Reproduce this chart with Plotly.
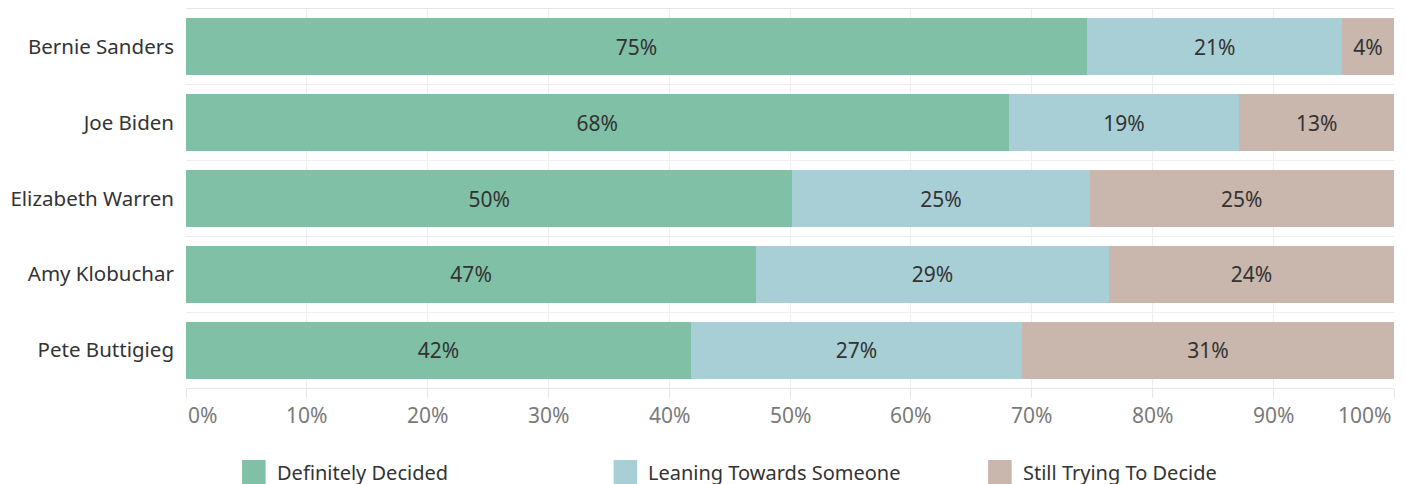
import plotly.graph_objects as go

candidates = ["Bernie Sanders", "Joe Biden", "Elizabeth Warren", "Amy Klobuchar", "Pete Buttigieg"]
definitely = [74.6, 68.1, 50.2, 47.2, 41.8]
leaning = [21.1, 19.1, 24.6, 29.2, 27.4]
still_trying = [4.3, 12.8, 25.2, 23.6, 30.8]
tick_values = [0, 10, 20, 30, 40, 50, 60, 70, 80, 90, 100]
tick_labels = [f"{v}%" for v in tick_values]

series = [
    ("Definitely Decided", definitely, "#7FC0A6"),
    ("Leaning Towards Someone", leaning, "#A8CFD5"),
    ("Still Trying To Decide", still_trying, "#C9B6AC"),
]

FONT = "Noto Sans"
rows = list(range(len(candidates)))

fig = go.Figure()
for name, vals, color in series:
    fig.add_trace(go.Bar(
        y=rows,
        x=vals,
        orientation="h",
        name=name,
        marker=dict(color=color, line=dict(width=0)),
        texttemplate="%{x:.0f}%",
        textposition="inside",
        insidetextanchor="middle",
        textangle=0,
        textfont=dict(family=FONT, size=21, color="#333333"),
        showlegend=False,
        hoverinfo="skip",
    ))

# x tick labels (first left-aligned, last right-aligned like the original)
annotations = []
for i, (v, lab) in enumerate(zip(tick_values, tick_labels)):
    anchor = "center"
    if i == 0:
        anchor = "left"
    elif i == len(tick_values) - 1:
        anchor = "right"
    annotations.append(dict(
        x=v, xref="x", y=-0.071, yref="paper", text=lab, showarrow=False,
        xanchor=anchor, yanchor="middle",
        font=dict(family=FONT, size=21, color="#7a7a7a"),
    ))

# legend drawn by hand so the swatches can be big
shapes = []
legend_x = [0.0464, 0.354, 0.664]
for (name, vals, color), lx in zip(series, legend_x):
    shapes.append(dict(
        type="rect", xref="paper", yref="paper",
        x0=lx, x1=lx + 0.0195, y0=-0.19, y1=-0.26,
        fillcolor=color, line=dict(width=0),
    ))
    annotations.append(dict(
        x=lx + 0.027, xref="paper", y=-0.224, yref="paper", text=name,
        showarrow=False, xanchor="left", yanchor="middle",
        font=dict(family=FONT, size=20, color="#333333"),
    ))

# the page body adds an 8px offset, so the figure is a bit smaller and shifted
fig.update_layout(
    barmode="stack",
    bargap=0.25,
    width=1398,
    height=476,
    margin=dict(l=178, r=12, t=1, b=96),
    plot_bgcolor="white",
    paper_bgcolor="white",
    annotations=annotations,
    shapes=shapes,
    xaxis=dict(
        range=[0, 100],
        tickvals=tick_values,
        showticklabels=False,
        ticks="outside",
        ticklen=9,
        tickcolor="#e6e6e6",
        showgrid=True,
        gridcolor="#eeeeee",
        zeroline=False,
        showline=True,
        linecolor="#e6e6e6",
        mirror=True,
        automargin=False,
    ),
    yaxis=dict(
        range=[len(candidates) - 0.5, -0.5],
        tickvals=rows,
        ticktext=candidates,
        ticks="",
        ticklabelstandoff=11,
        tickfont=dict(family=FONT, size=20.5, color="#333333"),
        showgrid=False,
        zeroline=False,
        automargin=False,
        minor=dict(
            tickvals=[r + 0.5 for r in rows[:-1]],
            showgrid=True,
            gridcolor="#eeeeee",
            ticks="",
        ),
    ),
)

fig.write_html("out.html")
